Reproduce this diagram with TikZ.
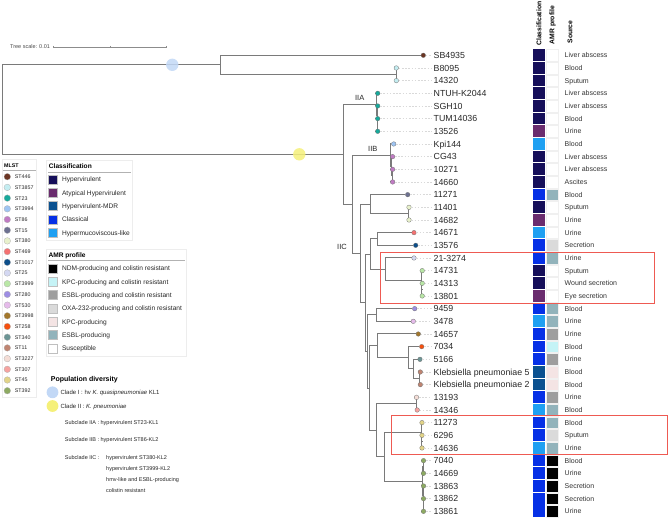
\documentclass[tikz,border=0pt]{standalone}
\usepackage{fontspec}
\setmainfont{Liberation Sans}
\usetikzlibrary{positioning, backgrounds}

% classification
\definecolor{hv}{HTML}{160F5A}
\definecolor{ahv}{HTML}{6A2C6E}
\definecolor{hvmdr}{HTML}{0B5190}
\definecolor{clas}{HTML}{0630E6}
\definecolor{hml}{HTML}{1FA0F2}
% amr profile
\definecolor{ndm}{HTML}{000000}
\definecolor{kpccol}{HTML}{C5F3F6}
\definecolor{esblcol}{HTML}{9E9E9E}
\definecolor{oxacol}{HTML}{DADADA}
\definecolor{kpc}{HTML}{F4E4E4}
\definecolor{esbl}{HTML}{92B3BB}
\definecolor{sus}{HTML}{FFFFFF}
% mlst
\definecolor{st446}{HTML}{6B3523}
\definecolor{st3857}{HTML}{C4EDF1}
\definecolor{st23}{HTML}{17A99B}
\definecolor{st3994}{HTML}{9EC4F2}
\definecolor{st86}{HTML}{C07BC3}
\definecolor{st15}{HTML}{6D7191}
\definecolor{st380}{HTML}{E8F1CC}
\definecolor{st469}{HTML}{F47171}
\definecolor{st1017}{HTML}{0C4E8A}
\definecolor{st25}{HTML}{D4D8F2}
\definecolor{st3999}{HTML}{B9E7A6}
\definecolor{st280}{HTML}{9D8DE3}
\definecolor{st530}{HTML}{E5BBEA}
\definecolor{st3998}{HTML}{A3772C}
\definecolor{st258}{HTML}{F5500F}
\definecolor{st340}{HTML}{6C9595}
\definecolor{st11}{HTML}{BF8471}
\definecolor{st3227}{HTML}{F4DDD6}
\definecolor{st307}{HTML}{F6A3A0}
\definecolor{st45}{HTML}{E2D488}
\definecolor{st392}{HTML}{8DAA62}
% clades
\definecolor{cladeI}{HTML}{C2D8F6}
\definecolor{cladeII}{HTML}{F5F07A}
\definecolor{boxred}{HTML}{EE5A52}

\begin{document}
\begin{tikzpicture}[
        x=1pt, y=-1pt,
        branch/.style={draw=black!52, line width=1pt},
        tip/.style={circle, draw=black!55, line width=0.3pt, inner sep=0pt, minimum size=4.6pt},
        leader/.style={draw=black!15, dash pattern=on 1.6pt off 1.6pt, line width=0.4pt, shorten >=2pt},
        leaf/.style={anchor=west, inner sep=0pt, text height=6.3pt, text depth=0pt, text=black!85, font=\fontsize{8.8}{10}\selectfont},
        clscell/.style={rectangle, inner sep=0pt, minimum width=11.4pt, minimum height=11.7pt},
        amrcell/.style={rectangle, draw=black!6, line width=0.3pt, inner sep=0pt, minimum width=11.6pt, minimum height=11.5pt},
        source/.style={anchor=west, inner sep=0pt, text height=5pt, text depth=0pt, text=black!80, font=\fontsize{7}{8}\selectfont},
        header/.style={rotate=90, anchor=west, inner sep=0pt, font=\fontsize{6.8}{8}\selectfont\bfseries},
        clademark/.style={circle, inner sep=0pt, minimum size=12.4pt, opacity=0.85},
        cladelabel/.style={inner sep=0pt, text=black!85, font=\fontsize{7.5}{9}\selectfont},
        redbox/.style={draw=boxred, line width=0.8pt},
        legbox/.style={draw=black!7, line width=0.5pt},
        legrule/.style={draw=black!30, line width=0.6pt},
        legtitle/.style={anchor=west, inner sep=0pt, text height=5pt, text depth=0pt, font=\fontsize{6.6}{8}\selectfont\bfseries},
        legkey/.style={rectangle, draw=black!25, line width=0.3pt, inner sep=0pt, minimum size=9pt},
        legtext/.style={inner sep=0pt, text height=4.8pt, text depth=0pt, text=black!85, font=\fontsize{6.6}{8}\selectfont},
        mlstdot/.style={circle, draw=black!30, line width=0.3pt, inner sep=0pt, minimum size=6.6pt},
        mlsttext/.style={inner sep=0pt, text height=3.8pt, text depth=0pt, text=black!85, font=\fontsize{5.3}{6}\selectfont},
        poptext/.style={anchor=west, inner sep=0pt, text height=4.4pt, text depth=0pt, text=black!85, font=\fontsize{5.5}{7}\selectfont},
    ]
        \useasboundingbox (0,0) rectangle (669,519);

        % tree scale
        \node[anchor=west, inner sep=0pt, text=black!70, font=\fontsize{5.5}{7}\selectfont] (scale) at (10,47) {Tree scale: 0.01};
        \draw[black!45, line width=0.5pt] (53.3,47) -- (166,47);
        \foreach \t in {53.3,110,166}
            \draw[black!45, line width=0.5pt] (\t,45.8) -- (\t,48.2);

        % leaves, tips and data columns
        \foreach \i/\x/\st/\lab/\cls/\amr/\src in {
            0/423.3/st446/SB4935/hv/sus/Liver abscess,
            1/396.3/st3857/B8095/hv/sus/Blood,
            2/396.3/st3857/14320/hv/sus/Sputum,
            3/377.7/st23/NTUH-K2044/hv/sus/Liver abscess,
            4/377.7/st23/SGH10/hv/sus/Liver abscess,
            5/377.7/st23/TUM14036/hv/sus/Blood,
            6/377.7/st23/13526/ahv/sus/Urine,
            7/393.7/st3994/Kpi144/hml/sus/Blood,
            8/392.6/st86/CG43/hv/sus/Liver abscess,
            9/392.6/st86/10271/hv/sus/Liver abscess,
            10/392.6/st86/14660/hv/sus/Ascites,
            11/407.7/st15/11271/clas/esbl/Blood,
            12/409/st380/11401/hv/sus/Sputum,
            13/409/st380/14682/ahv/sus/Urine,
            14/414/st469/14671/hml/sus/Urine,
            15/415.7/st1017/13576/clas/oxacol/Secretion,
            16/414/st25/21-3274/clas/esbl/Urine,
            17/422.2/st3999/14731/hv/sus/Sputum,
            18/422.2/st3999/14313/hv/sus/Wound secretion,
            19/422.2/st3999/13801/ahv/sus/Eye secretion,
            20/414.7/st280/9459/clas/esbl/Blood,
            21/413.3/st530/3478/hml/esbl/Urine,
            22/418.3/st3998/14657/clas/esblcol/Urine,
            23/421.7/st258/7034/clas/kpccol/Blood,
            24/420/st340/5166/clas/esblcol/Urine,
            25/420.3/st11/Klebsiella pneumoniae 5/hvmdr/kpc/Blood,
            26/420.3/st11/Klebsiella pneumoniae 2/hvmdr/kpc/Blood,
            27/416.5/st3227/13193/clas/esblcol/Urine,
            28/417.2/st307/14346/hml/esbl/Blood,
            29/422/st45/11273/clas/esbl/Blood,
            30/422/st45/6296/clas/oxacol/Sputum,
            31/422/st45/14636/hml/esbl/Urine,
            32/423.5/st392/7040/clas/ndm/Blood,
            33/423.5/st392/14669/clas/ndm/Urine,
            34/423.5/st392/13863/clas/ndm/Secretion,
            35/423.5/st392/13862/clas/ndm/Secretion,
            36/423.5/st392/13861/clas/ndm/Urine}
        {
            \pgfmathsetmacro\yy{55.3+12.667*\i}
            \node[tip, fill=\st] (d\i) at (\x,\yy) {};
            \node[leaf] (l\i) at (433.5,\yy) {\lab};
            \node[clscell, fill=\cls] (c\i) at (539,\yy) {};
            \node[amrcell, fill=\amr] (a\i) at (552.2,\yy) {};
            \node[source] (s\i) at (564.5,\yy) {\src};
            \draw[leader] (d\i) -- (l\i);
        }

        \node[header] (h_cls) at (539,46) {Classification};
        \node[header] (h_amr) at (552.5,44.5) {AMR profile};
        \node[header] (h_src) at (570,43.7) {Source};

        % internal nodes
        \coordinate (root) at (2,109.55);
        \coordinate (clade1) at (220,64.8);
        \coordinate (p_b8095) at (396,74.3);
        \coordinate (clade2) at (343.3,154.3);
        \coordinate (sub_a) at (376.6,104.4);
        \coordinate (sub_a1) at (377,115.5);
        \coordinate (sub_a2) at (377.3,125);
        \coordinate (sub_bc) at (352.7,204.2);
        \coordinate (sub_b) at (390,155.05);
        \coordinate (sub_b1) at (391.8,166.1);
        \coordinate (sub_b2) at (392.2,175.65);
        \coordinate (sub_c) at (360,253.4);
        \coordinate (c_11271) at (370.3,204.1);
        \coordinate (p_11401) at (408.6,213.65);
        \coordinate (c_low) at (365.3,302.75);
        \coordinate (c_mid) at (370.3,254);
        \coordinate (p_14671) at (377.3,238.95);
        \coordinate (c_box1) at (385.3,269.05);
        \coordinate (p_14731) at (421.7,280.1);
        \coordinate (p_14313) at (421.9,289.65);
        \coordinate (c_rest) at (367,351.5);
        \coordinate (p_9459) at (376.7,314.95);
        \coordinate (c_deep) at (369.5,388);
        \coordinate (c_14657) at (377,345.85);
        \coordinate (c_7034) at (408.3,357.7);
        \coordinate (c_5166) at (413.3,368.8);
        \coordinate (p_kpn) at (419.8,378.3);
        \coordinate (c_13193) at (376.7,430.15);
        \coordinate (p_13193) at (416,403.65);
        \coordinate (c_box2) at (384.3,456.65);
        \coordinate (p_11273) at (421.5,432.1);
        \coordinate (p_6296) at (421.7,441.65);
        \coordinate (p_7040) at (422.8,481.2);
        \coordinate (p_7040a) at (423.1,466.95);
        \coordinate (p_13863) at (423.1,495.5);
        \coordinate (p_13862) at (423.2,504.95);

        \begin{scope}[on background layer]
        \foreach \a/\b in {root/clade1, root/clade2, clade1/d0, clade1/p_b8095, p_b8095/d1, p_b8095/d2,
                clade2/sub_a, clade2/sub_bc, sub_a/d3, sub_a/sub_a1, sub_a1/d4, sub_a1/sub_a2, sub_a2/d5, sub_a2/d6,
                sub_bc/sub_b, sub_bc/sub_c, sub_b/d7, sub_b/sub_b1, sub_b1/d8, sub_b1/sub_b2, sub_b2/d9, sub_b2/d10,
                sub_c/c_11271, sub_c/c_low, c_11271/d11, c_11271/p_11401, p_11401/d12, p_11401/d13,
                c_low/c_mid, c_low/c_rest, c_mid/p_14671, c_mid/c_box1, p_14671/d14, p_14671/d15,
                c_box1/d16, c_box1/p_14731, p_14731/d17, p_14731/p_14313, p_14313/d18, p_14313/d19,
                c_rest/p_9459, c_rest/c_deep, p_9459/d20, p_9459/d21,
                c_deep/c_14657, c_deep/c_13193, c_14657/d22, c_14657/c_7034, c_7034/d23, c_7034/c_5166,
                c_5166/d24, c_5166/p_kpn, p_kpn/d25, p_kpn/d26,
                c_13193/p_13193, c_13193/c_box2, p_13193/d27, p_13193/d28,
                c_box2/p_11273, c_box2/p_7040, p_11273/d29, p_11273/p_6296, p_6296/d30, p_6296/d31,
                p_7040/p_7040a, p_7040/p_13863, p_7040a/d32, p_7040a/d33, p_13863/d34, p_13863/p_13862,
                p_13862/d35, p_13862/d36}
            \draw[branch] (\a) |- (\b);
        \end{scope}

        % clade marks and labels
        \node[clademark, fill=cladeI] (mark1) at (172.3,64.8) {};
        \node[clademark, fill=cladeII] (mark2) at (299.3,154.3) {};
        \node[cladelabel] (lab_a) at (359.7,98.3) {IIA};
        \node[cladelabel] (lab_b) at (372.8,149.3) {IIB};
        \node[cladelabel] (lab_c) at (342,247.3) {IIC};

        % highlighted groups
        \draw[redbox] (380.7,252.7) rectangle (654,303.3);
        \draw[redbox] (391.7,415.3) rectangle (667.7,454);

        % MLST legend
        \draw[legbox] (2,159) rectangle (36.5,397);
        \node[anchor=west, inner sep=0pt, text height=3.8pt, text depth=0pt, font=\fontsize{5.3}{6}\selectfont\bfseries] (t_mlst) at (4,165.7) {MLST};
        \draw[legrule] (3,170) -- (36,170);
        \foreach \i/\st in {0/446,1/3857,2/23,3/3994,4/86,5/15,6/380,7/469,8/1017,9/25,10/3999,
                11/280,12/530,13/3998,14/258,15/340,16/11,17/3227,18/307,19/45,20/392}
        {
            \node[mlstdot, fill=st\st] (m\i) at (7.3,{176.7+10.7*\i}) {};
            \node[mlsttext, right=4pt of m\i] {ST\st};
        }

        % classification legend
        \draw[legbox] (46,160) rectangle (132,240);
        \node[legtitle] (t_cls) at (48.7,165.7) {Classification};
        \draw[legrule] (48,172.3) -- (131,172.3);
        \foreach \i/\cls/\txt in {0/hv/Hypervirulent, 1/ahv/Atypical Hypervirulent, 2/hvmdr/Hypervirulent-MDR,
                3/clas/Classical, 4/hml/Hypermucoviscous-like}
        {
            \node[legkey, fill=\cls] (k\i) at (52.8,{179.3+13.33*\i}) {};
            \node[legtext, right=4.4pt of k\i] {\txt};
        }

        % amr legend
        \draw[legbox] (46,249) rectangle (186,356);
        \node[legtitle] (t_amr) at (48.3,255) {AMR profile};
        \draw[legrule] (48,260.5) -- (185,260.5);
        \foreach \i/\amr/\txt in {0/ndm/NDM-producing and colistin resistant, 1/kpccol/KPC-producing and colistin resistant,
                2/esblcol/ESBL-producing and colistin resistant, 3/oxacol/OXA-232-producing and colistin resistant,
                4/kpc/KPC-producing, 5/esbl/ESBL-producing, 6/sus/Susceptible}
        {
            \node[legkey, fill=\amr] (r\i) at (52.8,{268.3+13.33*\i}) {};
            \node[legtext, right=4.4pt of r\i] {\txt};
        }

        % population diversity
        \node[anchor=west, inner sep=0pt, text height=5.2pt, text depth=0pt, font=\fontsize{7}{8}\selectfont\bfseries] (t_pop) at (50.7,378.7) {Population diversity};
        \node[clademark, minimum size=11.8pt, opacity=1, fill=cladeI] (pop1) at (52.5,392.3) {};
        \node[legtext, font=\fontsize{6}{7}\selectfont, right=1.7pt of pop1] {Clade I : hv \textit{K. quasipneumoniae} KL1};
        \node[clademark, minimum size=11.8pt, opacity=1, fill=cladeII] (pop2) at (52.5,406) {};
        \node[legtext, font=\fontsize{6}{7}\selectfont, right=1.7pt of pop2] {Clade II : \textit{K. pneumoniae}};
        \node[poptext] (sub1) at (64.7,422.3) {Subclade IIA : hypervirulent ST23-KL1};
        \node[poptext] (sub2) at (64.7,439.7) {Subclade IIB : hypervirulent ST86-KL2};
        \node[poptext] (sub3) at (64.7,457.3) {Subclade IIC :};
        \node[poptext] (sub3a) at (106,457.3) {hypervirulent ST380-KL2};
        \node[poptext] (sub3b) at (106,468.3) {hypervirulent ST3999-KL2};
        \node[poptext] (sub3c) at (106,479.3) {hmv-like and ESBL-producing};
        \node[poptext] (sub3d) at (106,490.3) {colistin resistant};
    \end{tikzpicture}
\end{document}
